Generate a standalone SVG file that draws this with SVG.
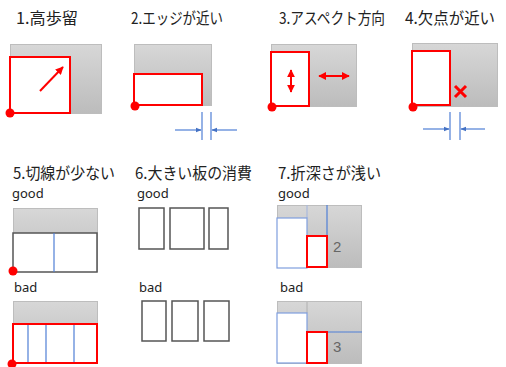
<svg xmlns="http://www.w3.org/2000/svg" width="506" height="367" viewBox="0 0 506 367">
<style>
.t{font-family:"Noto Sans CJK JP","Noto Sans",sans-serif;font-size:16px;fill:#222}
.s{font-family:"Noto Sans","Liberation Sans",sans-serif;font-size:13px;fill:#222}
.n{font-family:"Liberation Sans",sans-serif;font-size:15px;fill:#666}
.g{fill:url(#gr);stroke:#bdbdbd;stroke-width:1}
.r{fill:#fff;stroke:#ff0000;stroke-width:2}
.rn{fill:none;stroke:#ff0000;stroke-width:2}
.b{stroke:#4f7fd6;stroke-width:1.2;fill:none}
.bw{fill:#fff;stroke:#7f9ede;stroke-width:1.2}
.k{fill:#fff;stroke:#555;stroke-width:1.5}
.d{fill:#ff0000}
</style>
<defs>
<linearGradient id="gr" x1="0" y1="0" x2="0" y2="1">
<stop offset="0" stop-color="#d7d7d7"/>
<stop offset="1" stop-color="#bcbcbc"/>
</linearGradient>
<marker id="ra" viewBox="0 0 10 10" refX="9" refY="5" markerWidth="4" markerHeight="4" orient="auto-start-reverse">
<path d="M0,0 L10,5 L0,10 z" fill="#ff0000"/>
</marker>
<marker id="ba" viewBox="0 0 10 10" refX="9" refY="5" markerWidth="5" markerHeight="5" orient="auto">
<path d="M0,1 L10,5 L0,9 z" fill="#4472c4"/>
</marker>
</defs>

<g id="p1">
<text class="t" x="16" y="24" textLength="62" lengthAdjust="spacingAndGlyphs">1.高歩留</text>
<rect class="g" x="10.5" y="44.5" width="91" height="69"/>
<rect class="r" x="10" y="57" width="60" height="56"/>
<circle class="d" cx="10" cy="113" r="4.5"/>
</g>

<g id="p2">
<text class="t" x="131" y="24" textLength="92" lengthAdjust="spacingAndGlyphs">2.エッジが近い</text>
<rect class="g" x="134.5" y="44.5" width="77" height="61"/>
<rect class="r" x="134" y="74" width="68" height="31"/>
<circle class="d" cx="135" cy="106" r="4.5"/>
</g>

<g id="p3">
<text class="t" x="279" y="24" textLength="106" lengthAdjust="spacingAndGlyphs">3.アスペクト方向</text>
<rect class="g" x="271.5" y="44.5" width="85" height="62"/>
<rect class="r" x="271" y="52" width="38" height="54"/>
<circle class="d" cx="272" cy="107" r="4.5"/>
</g>

<g id="p4">
<text class="t" x="405" y="24" textLength="90" lengthAdjust="spacingAndGlyphs">4.欠点が近い</text>
<rect class="g" x="412.5" y="43.5" width="85" height="63"/>
<rect class="r" x="412" y="51" width="38" height="54"/>
<circle class="d" cx="413" cy="107" r="4.5"/>
<path d="M455,86 L466,97 M466,86 L455,97" stroke="#ff0000" stroke-width="3" fill="none"/>
</g>

<g id="p5">
<text class="t" x="13" y="179" textLength="102" lengthAdjust="spacingAndGlyphs">5.切線が少ない</text>
<text class="s" x="12" y="198">good</text>
<rect class="g" x="13.5" y="208.5" width="84" height="63"/>
<rect class="k" x="13" y="233" width="84" height="39"/>
<line class="b" x1="54" y1="233" x2="54" y2="272"/>
<circle class="d" cx="13" cy="271" r="4.5"/>
<text class="s" x="14" y="292">bad</text>
<rect class="g" x="13.5" y="301.5" width="84" height="62"/>
<rect class="r" x="13" y="324" width="84" height="39"/>
<line class="b" x1="28" y1="325" x2="28" y2="362"/>
<line class="b" x1="46" y1="325" x2="46" y2="362"/>
<line class="b" x1="74" y1="325" x2="74" y2="362"/>
<circle class="d" cx="12" cy="364" r="4.5"/>
</g>

<g id="p6">
<text class="t" x="135" y="179" textLength="117" lengthAdjust="spacingAndGlyphs">6.大きい板の消費</text>
<text class="s" x="137" y="198">good</text>
<rect class="k" x="139" y="208" width="25" height="41"/>
<rect class="k" x="170" y="208" width="34" height="41"/>
<rect class="k" x="209" y="208" width="19" height="41"/>
<text class="s" x="139" y="292">bad</text>
<rect class="k" x="142" y="301" width="24" height="40"/>
<rect class="k" x="172" y="301" width="26" height="40"/>
<rect class="k" x="204" y="301" width="25" height="40"/>
</g>

<g id="p7">
<text class="t" x="278" y="179" textLength="103" lengthAdjust="spacingAndGlyphs">7.折深さが浅い</text>
<text class="s" x="278" y="198">good</text>
<rect class="g" x="277.5" y="205.5" width="84" height="62"/>
<line stroke="#a9b9dc" stroke-width="1.2" x1="307" y1="205" x2="307" y2="218"/>
<line class="b" x1="327" y1="205" x2="327" y2="268"/>
<rect class="bw" x="277" y="218" width="30" height="50"/>
<rect class="r" x="307" y="236" width="20" height="31"/>
<text class="n" x="333" y="252">2</text>
<text class="s" x="280" y="292">bad</text>
<rect class="g" x="277.5" y="301.5" width="84" height="62"/>
<line stroke="#b0b0b0" stroke-width="1" x1="307" y1="302" x2="307" y2="313"/>
<line class="b" x1="307" y1="332" x2="362" y2="332"/>
<rect class="bw" x="277" y="313" width="30" height="50"/>
<rect class="r" x="307" y="332" width="20" height="31"/>
<text class="n" x="333" y="352">3</text>
</g>

<g id="connectors">
<line class="rn" stroke-width="1.2" x1="40" y1="91" x2="63" y2="67" marker-end="url(#ra)"/>
<line class="rn" stroke-width="1.5" x1="291" y1="70" x2="291" y2="92" marker-start="url(#ra)" marker-end="url(#ra)"/>
<line class="rn" stroke-width="1.5" x1="319" y1="76" x2="349" y2="76" marker-start="url(#ra)" marker-end="url(#ra)"/>
<line class="b" x1="202" y1="112" x2="202" y2="140"/>
<line class="b" x1="211" y1="112" x2="211" y2="140"/>
<line class="b" x1="175" y1="130" x2="201" y2="130" marker-end="url(#ba)"/>
<line class="b" x1="237" y1="130" x2="212" y2="130" marker-end="url(#ba)"/>
<line class="b" x1="450" y1="112" x2="450" y2="140"/>
<line class="b" x1="460" y1="112" x2="460" y2="140"/>
<line class="b" x1="423" y1="129" x2="449" y2="129" marker-end="url(#ba)"/>
<line class="b" x1="485" y1="129" x2="461" y2="129" marker-end="url(#ba)"/>
</g>
</svg>
